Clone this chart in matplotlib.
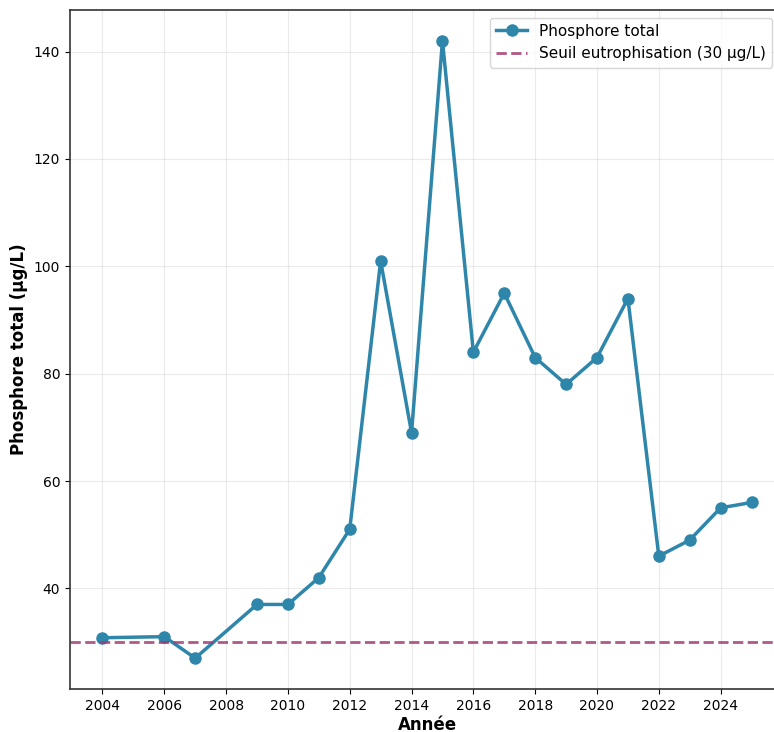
import matplotlib
matplotlib.use("Agg")
import matplotlib.pyplot as plt

# Données
annees = [2004, 2006, 2007, 2009, 2010, 2011, 2012, 2013, 2014, 2015,
          2016, 2017, 2018, 2019, 2020, 2021, 2022, 2023, 2024, 2025]
phosphore = [30.8, 31, 27, 37, 37, 42, 51, 101, 69, 142,
             84, 95, 83, 78, 83, 94, 46, 49, 55, 56]
seuil = 30
xticks = list(range(2004, 2026, 2))

fig = plt.figure(figsize=(7.74, 7.32), dpi=100)
ax = fig.add_axes([70 / 774, 43 / 732, 714 / 774, 679 / 732])

ax.plot(annees, phosphore, color="#2E86AB", linewidth=2.5, marker="o",
        markersize=8, label="Phosphore total")
ax.axhline(seuil, color="#A23B72", linestyle="--", linewidth=2, alpha=0.85,
           label="Seuil eutrophisation (30 µg/L)")

ax.set_xticks(xticks)
ax.set_xlabel("Année", fontsize=12, fontweight="bold", labelpad=2)
ax.set_ylabel("Phosphore total (µg/L)", fontsize=12, fontweight="bold")
ax.tick_params(labelsize=10)
ax.grid(True, alpha=0.25)
for s in ax.spines.values():
    s.set_color("#333333")
    s.set_linewidth(1.2)

ax.legend(loc="upper right", fontsize=11, bbox_to_anchor=(0.994, 1.0))

fig.savefig("out.png", dpi=100)
